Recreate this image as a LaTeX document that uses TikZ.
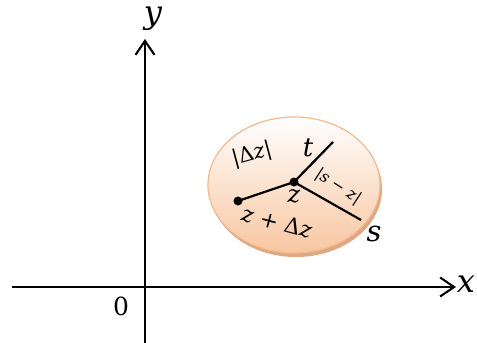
\documentclass[tikz,border=0pt]{standalone}
\usepackage{fontspec}
\newfontfamily\lf{DejaVu Serif}
\usetikzlibrary{arrows.meta}
\definecolor{rimc}{HTML}{DDA882}
\definecolor{edgec}{HTML}{F4B98E}
\definecolor{botc}{HTML}{F8C6A0}
\tikzset{
  axis/.style={line width=2.1pt,-{Straight Barb[length=14pt,width=19pt,line width=2.1pt]}},
  seg/.style={line width=2.2pt},
  dotc/.style={circle,fill=black,inner sep=0pt,minimum size=9pt},
  lbl/.style={inner sep=0pt},
}
\newcommand{\fz}[1]{\fontsize{#1}{#1}\selectfont\lf}
\newcommand{\iv}[1]{\textit{#1}}
\begin{document}
\begin{tikzpicture}[x=1pt,y=1pt]
\useasboundingbox (0,0) rectangle (477,-343);
% disc
\fill[rimc] (296,-189) ellipse [x radius=86,y radius=68];
\shade[top color=white,bottom color=botc,draw=edgec,line width=1.2pt] (294,-185) ellipse [x radius=86,y radius=68];
% axes
\coordinate (xs) at (12,-287);
\coordinate (xe) at (456,-287);
\coordinate (ys) at (145,-343);
\coordinate (ye) at (145,-39);
\draw[axis] (xs) -- (xe);
\draw[axis] (ys) -- (ye);
\node[lbl,anchor=base] (xl) at (466,-292) {\fz{32}\iv{x}};
\node[lbl,anchor=base] (yl) at (153,-23) {\fz{32}\iv{y}};
\node[lbl,anchor=base] (o) at (121,-315) {\fz{25}0};
% points
\node[dotc] (z) at (294,-182) {};
\node[dotc] (zd) at (238,-201) {};
\coordinate (t) at (333,-142);
\coordinate (s) at (361,-220);
\draw[seg] (zd.center) -- (z.center) -- (t);
\draw[seg] (z.center) -- (s);
% labels
\node[lbl,anchor=base] (tl) at (308,-156) {\fz{26}\iv{t}};
\node[lbl,anchor=base] (sl) at (374,-241) {\fz{29}\iv{s}};
\node[lbl,anchor=base] (zl) at (294,-202) {\fz{24}\iv{z}};
\node[lbl,rotate=15] (dz) at (252,-155) {\fz{21}|Δ\iv{z}|};
\node[lbl,rotate=-15] (zdl) at (277,-222) {\fz{22}\iv{z} + Δ\iv{z}};
\node[lbl,rotate=-33] (szl) at (338,-187) {\fz{16}|\iv{s} − \iv{z}|};
\end{tikzpicture}
\end{document}
